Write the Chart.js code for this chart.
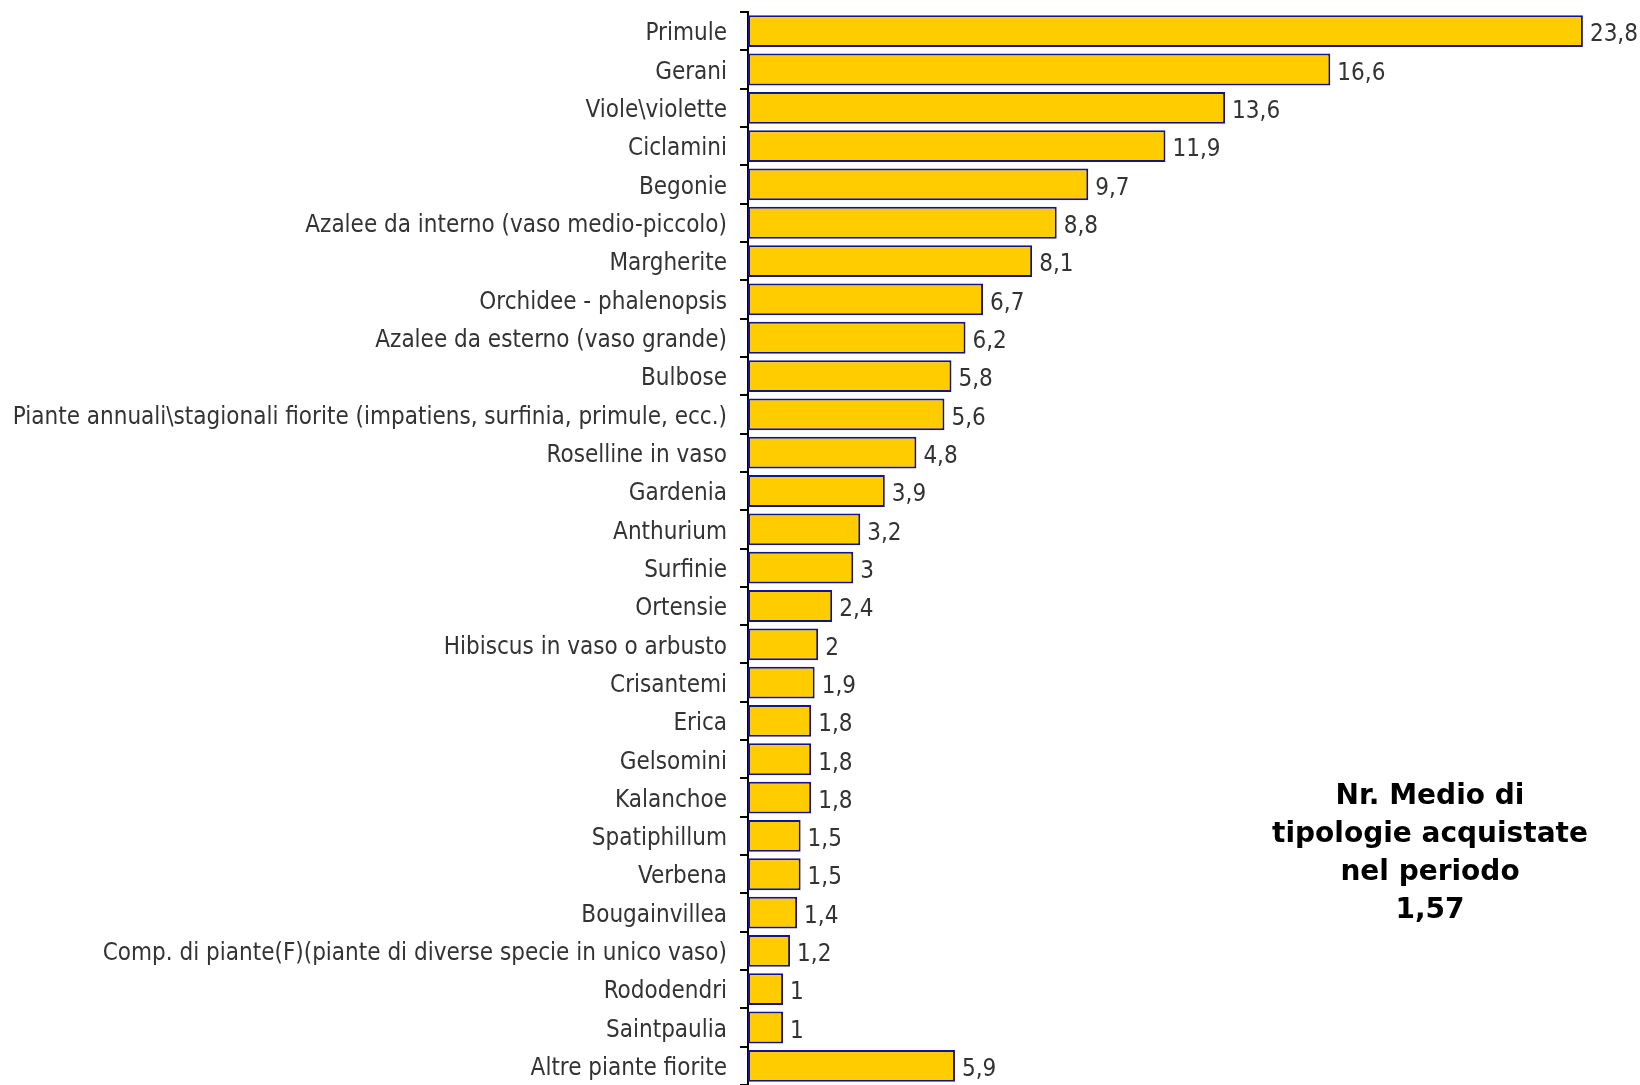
<!DOCTYPE html>
<html>
<head>
<meta charset="utf-8">
<script src="https://cdn.jsdelivr.net/npm/chart.js@4"></script>
<style>
  html, body { margin: 0; padding: 0; background: #fff; overflow: hidden; }
  #wrap { width: 1640px; height: 1085px; }
</style>
</head>
<body>
<div id="wrap"><canvas id="chart" width="1640" height="1085"></canvas></div>
<script>
// categories and values, top to bottom
const categories = [
  'Primule', 'Gerani', 'Viole\\violette', 'Ciclamini', 'Begonie',
  'Azalee da interno (vaso medio-piccolo)', 'Margherite', 'Orchidee - phalenopsis',
  'Azalee da esterno (vaso grande)', 'Bulbose',
  'Piante annuali\\stagionali fiorite (impatiens, surfinia, primule, ecc.)',
  'Roselline in vaso', 'Gardenia', 'Anthurium', 'Surfinie', 'Ortensie',
  'Hibiscus in vaso o arbusto', 'Crisantemi', 'Erica', 'Gelsomini', 'Kalanchoe',
  'Spatiphillum', 'Verbena', 'Bougainvillea',
  'Comp. di piante(F)(piante di diverse specie in unico vaso)',
  'Rododendri', 'Saintpaulia', 'Altre piante fiorite'
];
const values = [
  23.8, 16.6, 13.6, 11.9, 9.7, 8.8, 8.1, 6.7, 6.2, 5.8, 5.6, 4.8, 3.9, 3.2, 3,
  2.4, 2, 1.9, 1.8, 1.8, 1.8, 1.5, 1.5, 1.4, 1.2, 1, 1, 5.9
];
const noteLines = ['Nr. Medio di', 'tipologie acquistate', 'nel periodo', '1,57'];

const labelFamily = '"DejaVu Sans Condensed", "DejaVu Sans", sans-serif';

// value labels at the end of each bar, comma decimals
const valueLabels = {
  id: 'valueLabels',
  afterDatasetsDraw(chart) {
    const ctx = chart.ctx;
    const meta = chart.getDatasetMeta(0);
    ctx.save();
    ctx.font = '24px ' + labelFamily;
    ctx.fillStyle = '#333333';
    ctx.textAlign = 'left';
    ctx.textBaseline = 'middle';
    meta.data.forEach((bar, i) => {
      ctx.fillText(String(values[i]).replace('.', ','), bar.x + 7, bar.y + 4);
    });
    ctx.restore();
  }
};

// the bold note on the right
const note = {
  id: 'note',
  afterDraw(chart) {
    const ctx = chart.ctx;
    ctx.save();
    ctx.font = 'bold 28px "DejaVu Sans", Verdana, sans-serif';
    ctx.fillStyle = '#000000';
    ctx.textAlign = 'center';
    ctx.textBaseline = 'middle';
    noteLines.forEach((line, i) => {
      ctx.fillText(line, 1430, 797 + i * 38);
    });
    ctx.restore();
  }
};

new Chart(document.getElementById('chart'), {
  type: 'bar',
  data: {
    labels: categories,
    datasets: [{
      data: values,
      backgroundColor: '#FFCC00',
      borderColor: '#14148C',
      borderWidth: 2,
      borderSkipped: false,
      barPercentage: 0.83,
      categoryPercentage: 1
    }]
  },
  options: {
    indexAxis: 'y',
    responsive: false,
    animation: false,
    layout: { padding: { top: 12, bottom: 0, left: 0, right: 15 } },
    plugins: {
      legend: { display: false },
      tooltip: { enabled: false }
    },
    scales: {
      x: { display: false, min: 0, max: 25 },
      y: {
        afterFit(scale) {
          scale.width = 748;
          scale.paddingTop = 0;
          scale.paddingBottom = 0;
        },
        border: { display: true, color: '#000000', width: 2 },
        grid: {
          offset: true,
          drawOnChartArea: false,
          drawTicks: true,
          tickLength: 8,
          color: '#000000',
          lineWidth: 2
        },
        ticks: {
          autoSkip: false,
          padding: 13,
          labelOffset: 3,
          color: '#333333',
          font: { family: labelFamily, size: 24 }
        }
      }
    }
  },
  plugins: [valueLabels, note]
});
</script>
</body>
</html>
